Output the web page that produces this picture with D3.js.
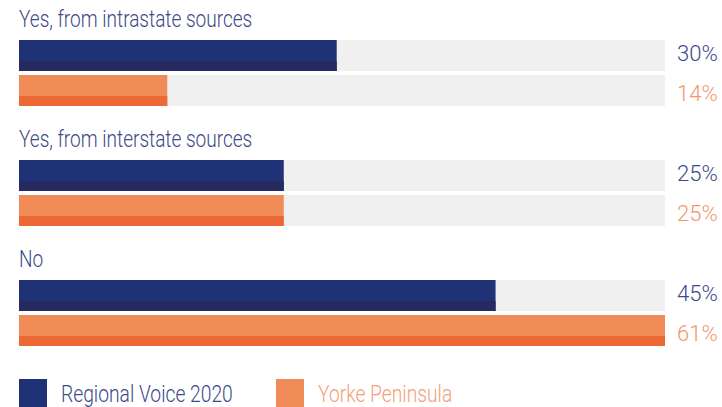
<!DOCTYPE html>
<html>
<head>
<meta charset="utf-8">
<script src="https://cdn.jsdelivr.net/npm/d3@7"></script>
<style>
  html, body { margin: 0; padding: 0; background: #ffffff; }
  svg { display: block; }
  text { font-family: Roboto, "Liberation Sans", sans-serif; font-weight: 300; }
</style>
</head>
<body>
<svg id="chart" width="722" height="407"></svg>
<script>
// Survey answers (groups) and the share of respondents per series
const categories = ["Yes, from intrastate sources", "Yes, from interstate sources", "No"];
const seriesNames = ["Regional Voice 2020", "Yorke Peninsula"];
const regionalVoice = [30, 25, 45];
const yorkePeninsula = [14, 25, 61];
const valueLabels = [["30%", "14%"], ["25%", "25%"], ["45%", "61%"]];

const seriesValues = [regionalVoice, yorkePeninsula];
const fillTop = ["#1e3275", "#f08a56"];
const fillBottom = ["#262a60", "#ec6935"];
const labelColor = ["#3b4a8a", "#f4956a"];
const titleColor = "#3d4a86";
const trackColor = "#eff0ef";

const svg = d3.select("#chart");

// Condensed lettering: squeeze a regular sans horizontally
function condensedText(parent, px, py, sx, size, fill, str) {
  parent.append("g")
    .attr("transform", `translate(${px},${py}) scale(${sx},1)`)
    .append("text")
    .attr("x", 0).attr("y", 0)
    .attr("fill", fill)
    .attr("font-size", size)
    .text(str);
}

// Bars span the track when the value equals the largest value
const maxVal = d3.max(seriesValues.flat());
const x = d3.scaleLinear().domain([0, maxVal]).range([19, 665]);

// Each group sits in a 120px slot; series stacked inside it
const groupY = d3.scaleBand().domain(categories).range([0, 360]).paddingInner(0);

const barH = 31;
const darkH = 10;
const barTop = [40, 75];

categories.forEach((cat, gi) => {
  const g = svg.append("g").attr("transform", `translate(0,${groupY(cat)})`);

  condensedText(g, 19, 27, 0.81, 23.5, titleColor, cat);

  seriesNames.forEach((s, si) => {
    const y0 = barTop[si];
    const v = seriesValues[si][gi];

    g.append("rect")
      .attr("x", x(0)).attr("y", y0)
      .attr("width", x(maxVal) - x(0)).attr("height", barH)
      .attr("fill", trackColor);

    g.append("rect")
      .attr("x", x(0)).attr("y", y0)
      .attr("width", x(v) - x(0)).attr("height", barH)
      .attr("fill", fillTop[si]);

    g.append("rect")
      .attr("x", x(0)).attr("y", y0 + barH - darkH)
      .attr("width", x(v) - x(0)).attr("height", darkH)
      .attr("fill", fillBottom[si]);

    condensedText(g, 677, y0 + (si === 0 ? 21 : 25.5), 0.98, 22.5, labelColor[si], valueLabels[gi][si]);
  });
});

// Legend
const legendX = [19, 276];
const legendTextColor = ["#3b4a8a", "#f4a078"];
seriesNames.forEach((s, si) => {
  svg.append("rect")
    .attr("x", legendX[si]).attr("y", 379)
    .attr("width", 28).attr("height", 28)
    .attr("fill", fillTop[si]);
  condensedText(svg, legendX[si] + 42, 401.5, 0.82, 23.5, legendTextColor[si], s);
});
</script>
</body>
</html>
